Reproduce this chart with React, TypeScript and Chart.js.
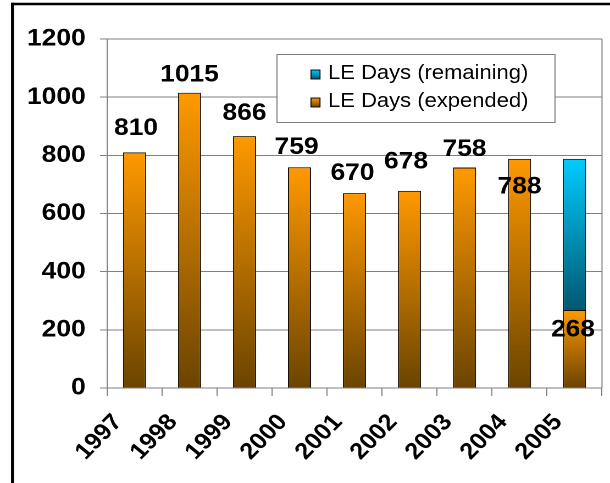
import React, { useEffect, useRef } from 'react';
import { Chart, registerables } from 'chart.js';

Chart.register(...registerables);

// ---- data ----
const years = ['1997', '1998', '1999', '2000', '2001', '2002', '2003', '2004', '2005'];
const expendedDays: (number | null)[] = [810, 1015, 866, 759, 670, 678, 758, 788, 268];
const remainingDays: (number | null)[] = [null, null, null, null, null, null, null, null, 520];
const seriesNames = ['LE Days (remaining)', 'LE Days (expended)'];
const yMin = 0;
const yMax = 1200;
const yStep = 200;

// label nudges (reference pixels, relative to bar top centre)
const labelDx = [1.5, 0, 0, -3, -2, -3.5, 0, 0, -1.5];
const labelDy = [-24, -18, -23, -20, -20, -29, -18, 28, 20];

// ---- layout ----
const CSS_W = 610;
const H = 483;
const W = 555; // logical width, stretched to CSS_W
const SX = CSS_W / W;
const FONT = '"Liberation Sans", Arial, sans-serif';

const ORANGE_TOP = '#FF9900';
const ORANGE_BOT = '#6B4400';
const CYAN_TOP = '#00CCFF';
const CYAN_BOT = '#005870';

function vGrad(ctx: CanvasRenderingContext2D, top: number, bot: number, c1: string, c2: string) {
  if (!isFinite(top) || !isFinite(bot) || top === bot) return c1;
  const g = ctx.createLinearGradient(0, top, 0, bot);
  g.addColorStop(0, c1);
  g.addColorStop(1, c2);
  return g;
}

const decor = {
  id: 'decor',
  afterDatasetsDraw(chart: any) {
    const ctx: CanvasRenderingContext2D = chart.ctx;
    const meta = chart.getDatasetMeta(0);
    ctx.save();
    ctx.font = `bold 24px ${FONT}`;
    ctx.fillStyle = '#000';
    ctx.textAlign = 'center';
    ctx.textBaseline = 'middle';
    meta.data.forEach((el: any, i: number) => {
      const v = expendedDays[i];
      if (v == null) return;
      ctx.fillText(String(v), el.x + labelDx[i] / SX, el.y + labelDy[i]);
    });
    ctx.restore();
  },
  afterDraw(chart: any) {
    const ctx: CanvasRenderingContext2D = chart.ctx;
    const a = chart.chartArea;
    ctx.save();
    // plot area right border
    ctx.strokeStyle = '#808080';
    ctx.lineWidth = 1;
    ctx.beginPath();
    ctx.moveTo(a.right, a.top);
    ctx.lineTo(a.right, a.bottom);
    ctx.stroke();

    // legend box
    const lx = 277 / SX;
    const ly = 54;
    const lw = (555 - 277) / SX;
    const lh = 68;
    ctx.fillStyle = '#fff';
    ctx.fillRect(lx, ly, lw, lh);
    ctx.strokeStyle = '#808080';
    ctx.lineWidth = 1;
    ctx.strokeRect(lx, ly + 0.5, lw, lh);
    const cols = [
      [CYAN_TOP, CYAN_BOT],
      [ORANGE_TOP, ORANGE_BOT],
    ];
    ctx.font = `20px ${FONT}`;
    ctx.textAlign = 'left';
    ctx.textBaseline = 'alphabetic';
    seriesNames.forEach((name, r) => {
      const base = 79 + 28 * r;
      const mx = 311 / SX;
      const my = base - 9;
      const mw = 9 / SX;
      ctx.fillStyle = vGrad(ctx, my, my + 9, cols[r][0], cols[r][1]) as any;
      ctx.fillRect(mx, my, mw, 9);
      ctx.strokeStyle = '#000';
      ctx.lineWidth = 0.9;
      ctx.strokeRect(mx, my, mw, 9);
      ctx.fillStyle = '#000';
      ctx.fillText(name, 328 / SX, base);
    });

    // outer frame
    ctx.strokeStyle = '#000';
    ctx.lineWidth = 2.5;
    ctx.beginPath();
    ctx.moveTo(11 / SX, 4);
    ctx.lineTo(W + 2, 4);
    ctx.stroke();
    ctx.lineWidth = 3 / SX;
    ctx.beginPath();
    ctx.moveTo(12.5 / SX, 2.75);
    ctx.lineTo(12.5 / SX, H + 2);
    ctx.stroke();
    ctx.restore();
  },
};

export default function App() {
  const ref = useRef<HTMLCanvasElement>(null);
  useEffect(() => {
    const canvas = ref.current!;
    const chart = new Chart(canvas, {
      type: 'bar',
      data: {
        labels: years,
        datasets: [
          {
            label: seriesNames[1],
            data: expendedDays,
            backgroundColor: (c: any) => {
              const chart = c.chart;
              const y = chart.scales && chart.scales.y;
              if (!y || c.type !== 'data') return ORANGE_TOP;
              const v = expendedDays[c.dataIndex] ?? 0;
              return vGrad(chart.ctx, y.getPixelForValue(v), y.getPixelForValue(0), ORANGE_TOP, ORANGE_BOT);
            },
            borderColor: '#1a1000',
            borderWidth: 1,
            categoryPercentage: 1,
            barPercentage: 0.42,
          },
          {
            label: seriesNames[0],
            data: remainingDays,
            backgroundColor: (c: any) => {
              const chart = c.chart;
              const y = chart.scales && chart.scales.y;
              if (!y || c.type !== 'data') return CYAN_TOP;
              const i = c.dataIndex;
              const b = expendedDays[i] ?? 0;
              const v = remainingDays[i] ?? 0;
              return vGrad(chart.ctx, y.getPixelForValue(b + v), y.getPixelForValue(b), CYAN_TOP, CYAN_BOT);
            },
            borderColor: '#001a22',
            borderWidth: 1,
            categoryPercentage: 1,
            barPercentage: 0.42,
          },
        ],
      },
      options: {
        responsive: false,
        animation: false,
        devicePixelRatio: 2,
        layout: { padding: { top: 39, right: W - 602 / SX, left: 0, bottom: 0 } },
        plugins: {
          legend: { display: false },
          title: { display: false },
          tooltip: { enabled: false },
        },
        scales: {
          x: {
            stacked: true,
            offset: true,
            grid: { offset: true, drawOnChartArea: false, drawTicks: true, tickLength: 8, color: '#808080' },
            border: { color: '#808080' },
            ticks: {
              minRotation: 48,
              maxRotation: 48,
              autoSkip: false,
              color: '#000',
              font: { family: FONT, size: 23, weight: 'bold' },
              padding: 13,
              labelOffset: -15,
            },
            afterFit: (s: any) => {
              s.height = H - 388;
              s.paddingRight = 0;
              s.paddingLeft = 0;
            },
          },
          y: {
            stacked: true,
            min: yMin,
            max: yMax,
            ticks: {
              stepSize: yStep,
              color: '#000',
              font: { family: FONT, size: 24, weight: 'bold' },
              padding: 13,
              callback: (v: any) => String(v),
            },
            grid: { color: '#808080', tickLength: 6.4 },
            border: { color: '#808080' },
            afterFit: (s: any) => {
              s.width = 107 / SX;
            },
          },
        },
      },
      plugins: [decor],
    } as any);
    return () => chart.destroy();
  }, []);
  return (
    <div style={{ position: 'fixed', left: 0, top: 0, width: CSS_W, height: H, background: '#fff', overflow: 'hidden' }}>
      <canvas ref={ref} width={W} height={H} style={{ width: `${CSS_W}px`, height: `${H}px`, display: 'block' }} />
    </div>
  );
}
